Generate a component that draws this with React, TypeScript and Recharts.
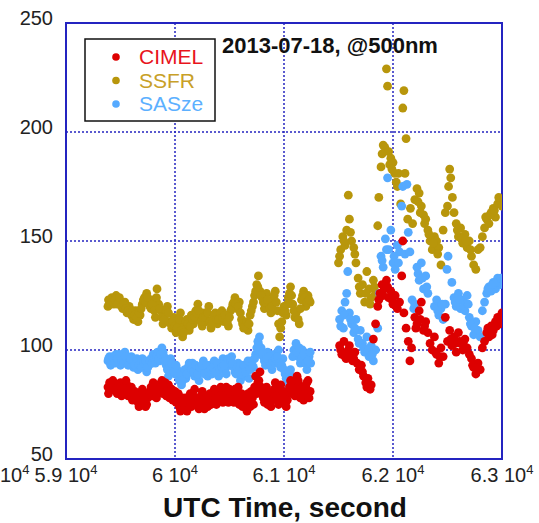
import React from "react";
import {
  ScatterChart,
  Scatter,
  XAxis,
  YAxis,
  CartesianGrid,
  ReferenceArea,
} from "recharts";

// UTC time (s), value pairs
const cimel: [number, number][] = [
  [59385, 83], [59400, 85], [59420, 82], [59440, 84], [59460, 81], [59480, 83], [59500, 85], [59520, 82],
  [59540, 80], [59560, 84], [59580, 81], [59600, 83], [59620, 78], [59640, 80], [59660, 76], [59680, 79],
  [59700, 82], [59720, 77], [59740, 75], [59760, 79], [59780, 83], [59800, 85], [59820, 80], [59840, 84],
  [59860, 81], [59880, 86], [59900, 82], [59920, 79], [59940, 84], [59960, 80], [59980, 77], [60000, 81],
  [60020, 78], [60040, 74], [60060, 76], [60080, 73], [60100, 78], [60120, 75], [60140, 80], [60160, 77],
  [60180, 82], [60200, 76], [60220, 73], [60240, 79], [60260, 75], [60280, 78], [60300, 74], [60320, 80],
  [60340, 77], [60360, 82], [60380, 75], [60400, 79], [60420, 83], [60440, 76], [60460, 81], [60480, 78],
  [60500, 82], [60520, 79], [60540, 76], [60560, 80], [60580, 83], [60600, 77], [60620, 74], [60640, 79],
  [60660, 72], [60680, 77], [60700, 81], [60720, 75], [60740, 88], [60760, 85], [60780, 90], [60800, 80],
  [60820, 76], [60840, 83], [60860, 78], [60880, 74], [60900, 80], [60920, 85], [60940, 77], [60960, 82],
  [60980, 79], [61000, 76], [61020, 74], [61040, 81], [61060, 86], [61080, 83], [61100, 79], [61120, 88],
  [61140, 84], [61160, 80], [61180, 77], [61200, 83], [61220, 86], [61240, 81],
  [59390, 80], [59410, 84], [59430, 86], [59450, 82], [59470, 80], [59490, 84], [59510, 79], [59530, 83],
  [59550, 86], [59570, 79], [59590, 82], [59610, 77], [59630, 81], [59650, 79], [59670, 74], [59690, 77],
  [59710, 80], [59730, 74], [59750, 78], [59770, 81], [59790, 79], [59810, 83], [59830, 78], [59850, 82],
  [59870, 84], [59890, 80], [59910, 85], [59930, 81], [59950, 78], [59970, 82], [59990, 79], [60010, 76],
  [60030, 80], [60050, 72], [60070, 78], [60090, 75], [60110, 72], [60130, 77], [60150, 74], [60170, 79],
  [60190, 75], [60210, 78], [60230, 76], [60250, 81], [60270, 73], [60290, 77], [60310, 79], [60330, 75],
  [60350, 79], [60370, 78], [60390, 81], [60410, 77], [60430, 80], [60450, 79], [60470, 83], [60490, 76],
  [60510, 80], [60530, 77], [60550, 82], [60570, 78], [60590, 75], [60610, 80], [60630, 77], [60650, 75],
  [60670, 80], [60690, 74], [60710, 78], [60730, 83], [60750, 80], [60770, 86], [60790, 83], [60810, 78],
  [60830, 81], [60850, 75], [60870, 80], [60890, 77], [60910, 82], [60930, 79], [60950, 75], [60970, 84],
  [60990, 81], [61010, 78], [61030, 77], [61050, 83], [61070, 80], [61090, 85], [61110, 82], [61130, 86],
  [61150, 78], [61170, 83], [61190, 80], [61210, 85], [61230, 78],
  [61510, 102], [61530, 98], [61550, 104], [61570, 96], [61590, 100], [61610, 97], [61630, 95], [61650, 99],
  [61670, 94], [61690, 91], [61710, 93], [61730, 88], [61750, 85], [61770, 87], [61790, 82], [61800, 84],
  [61820, 105], [61840, 112], [61860, 120], [61880, 126], [61900, 130], [61920, 128], [61940, 132], [61960, 124],
  [61980, 127], [62000, 121], [62020, 125], [62040, 119], [62060, 122], [62080, 134], [62090, 150], [62100, 117],
  [62120, 110], [62140, 104], [62155, 95], [62170, 101], [62200, 115], [62220, 112], [62240, 118], [62260, 122],
  [62280, 109], [62300, 113], [62320, 108], [62340, 103], [62360, 100], [62380, 106], [62400, 98], [62420, 94],
  [62440, 101], [62460, 97], [62480, 115], [62500, 104], [62520, 109], [62540, 102], [62560, 106], [62580, 99],
  [62600, 108], [62620, 103], [62640, 100], [62660, 105], [62680, 101], [62700, 98], [62720, 96], [62740, 92],
  [62760, 89], [62780, 94], [62800, 91], [62820, 101], [62840, 104], [62860, 108], [62880, 106], [62900, 111],
  [62920, 109], [62940, 113], [62960, 115], [62980, 112], [63000, 117],
  [61520, 100], [61560, 97], [61600, 102], [61640, 96], [61720, 90], [61760, 83], [61870, 123], [61910, 125],
  [61950, 129], [61990, 123], [62030, 120], [62210, 110], [62250, 114], [62290, 111], [62390, 99], [62430, 97],
  [62530, 105], [62570, 103], [62610, 104], [62650, 102], [62730, 93], [62770, 92], [62870, 110], [62910, 107],
  [62950, 111], [62990, 114],
];

const ssfr: [number, number][] = [
  [59385, 120], [59400, 122], [59420, 124], [59440, 121], [59460, 125], [59480, 123], [59500, 121], [59520, 119],
  [59540, 122], [59560, 117], [59580, 120], [59600, 116], [59620, 114], [59640, 118], [59660, 113], [59680, 116],
  [59700, 121], [59720, 124], [59740, 126], [59760, 122], [59780, 119], [59800, 123], [59820, 115], [59835, 128],
  [59850, 121], [59870, 118], [59890, 112], [59910, 116], [59930, 120], [59950, 113], [59970, 110], [59990, 115],
  [60010, 108], [60030, 112], [60050, 117], [60070, 106], [60090, 111], [60110, 114], [60130, 109], [60150, 116],
  [60170, 112], [60190, 118], [60210, 121], [60230, 115], [60250, 111], [60270, 117], [60290, 113], [60310, 120],
  [60330, 110], [60350, 114], [60370, 117], [60390, 112], [60410, 116], [60430, 118], [60450, 113], [60470, 115],
  [60490, 111], [60510, 118], [60530, 121], [60550, 124], [60570, 119], [60590, 122], [60610, 114], [60630, 110],
  [60650, 112], [60670, 109], [60690, 116], [60710, 120], [60730, 125], [60750, 130], [60765, 134], [60780, 127],
  [60800, 124], [60820, 119], [60840, 126], [60860, 121], [60880, 117], [60900, 123], [60920, 127], [60940, 118],
  [60960, 106], [60980, 113], [61000, 120], [61020, 116], [61040, 124], [61060, 129], [61080, 121], [61100, 115],
  [61120, 118], [61140, 112], [61160, 123], [61180, 127], [61200, 120], [61220, 125], [61240, 122],
  [59390, 123], [59410, 121], [59430, 122], [59450, 123], [59470, 121], [59490, 124], [59510, 120], [59530, 121],
  [59550, 119], [59570, 118], [59590, 117], [59610, 118], [59630, 116], [59650, 115], [59670, 117], [59690, 119],
  [59710, 123], [59730, 122], [59750, 124], [59770, 120], [59790, 121], [59810, 118], [59830, 124], [59860, 119],
  [59880, 115], [59900, 114], [59920, 118], [59940, 117], [59960, 112], [59980, 113], [60000, 111], [60020, 110],
  [60040, 114], [60060, 109], [60080, 108], [60100, 113], [60120, 112], [60140, 111], [60160, 114], [60180, 115],
  [60200, 117], [60220, 118], [60240, 113], [60260, 115], [60280, 115], [60300, 117], [60320, 113], [60340, 112],
  [60360, 116], [60380, 114], [60400, 114], [60420, 117], [60440, 115], [60460, 116], [60480, 113], [60500, 115],
  [60520, 119], [60540, 122], [60560, 121], [60580, 120], [60600, 117], [60620, 112], [60640, 111], [60660, 113],
  [60680, 112], [60700, 118], [60720, 122], [60740, 127], [60760, 129], [60790, 125], [60810, 122], [60830, 122],
  [60850, 123], [60870, 119], [60890, 120], [60910, 125], [60930, 122], [60950, 112], [60970, 110], [60990, 117],
  [61010, 118], [61030, 121], [61050, 126], [61070, 125], [61090, 118], [61110, 117], [61130, 114], [61150, 119],
  [61170, 125], [61190, 124], [61210, 122], [61230, 123],
  [61500, 140], [61520, 146], [61540, 152], [61560, 148], [61575, 155], [61590, 171], [61600, 160], [61620, 150],
  [61640, 147], [61660, 140], [61680, 133], [61700, 126], [61720, 130], [61740, 122], [61760, 136], [61780, 128],
  [61800, 124], [61820, 132], [61840, 126], [61860, 157], [61870, 170], [61890, 184], [61910, 194], [61925, 193],
  [61940, 229], [61950, 221], [61960, 191], [61980, 188], [62000, 186], [62015, 181], [62030, 177], [62050, 181],
  [62070, 167], [62090, 211], [62100, 219], [62110, 181], [62120, 197], [62135, 160], [62160, 165], [62180, 158],
  [62200, 169], [62220, 174], [62240, 172], [62260, 166], [62280, 162], [62300, 160], [62320, 155], [62340, 150],
  [62360, 146], [62380, 152], [62400, 150], [62420, 147], [62440, 139], [62460, 155], [62480, 163], [62500, 166],
  [62510, 175], [62520, 183], [62530, 179], [62545, 170], [62560, 163], [62580, 158], [62600, 152], [62620, 156],
  [62640, 149], [62660, 153], [62680, 147], [62700, 150], [62720, 143], [62740, 139], [62760, 137], [62780, 146],
  [62800, 147], [62820, 152], [62840, 156], [62860, 160], [62880, 158], [62900, 163], [62920, 165], [62940, 161],
  [62960, 167], [62980, 169], [63000, 166],
  [61510, 143], [61550, 150], [61610, 154], [61650, 144], [61690, 129], [61750, 126], [61790, 121], [61830, 129],
  [61900, 190], [61970, 185], [61990, 183], [62040, 175], [62230, 168], [62250, 163], [62290, 158], [62330, 153],
  [62370, 149], [62410, 144], [62590, 155], [62630, 151], [62670, 150], [62710, 146], [62850, 161], [62890, 162],
  [62930, 164], [62970, 170],
];

const sasze: [number, number][] = [
  [59385, 95], [59400, 97], [59420, 94], [59440, 96], [59460, 98], [59480, 95], [59500, 93], [59520, 97],
  [59540, 99], [59560, 95], [59580, 94], [59600, 97], [59620, 92], [59640, 95], [59660, 91], [59680, 94],
  [59700, 96], [59720, 92], [59740, 90], [59760, 93], [59780, 96], [59800, 98], [59820, 94], [59840, 99],
  [59860, 95], [59880, 101], [59900, 97], [59920, 93], [59940, 88], [59960, 96], [59980, 92], [60000, 89],
  [60020, 91], [60040, 86], [60060, 84], [60080, 89], [60100, 87], [60120, 92], [60140, 90], [60160, 94],
  [60180, 88], [60200, 92], [60220, 86], [60240, 90], [60260, 95], [60280, 91], [60300, 88], [60320, 93],
  [60340, 89], [60360, 95], [60380, 92], [60400, 88], [60420, 94], [60440, 96], [60460, 91], [60480, 95],
  [60500, 93], [60520, 97], [60540, 92], [60560, 89], [60580, 94], [60600, 86], [60620, 91], [60640, 88],
  [60660, 93], [60680, 87], [60700, 95], [60720, 92], [60740, 98], [60760, 104], [60775, 106], [60790, 101],
  [60810, 97], [60830, 93], [60850, 99], [60870, 95], [60890, 91], [60910, 98], [60930, 94], [60950, 100],
  [60970, 92], [60990, 96], [61010, 89], [61030, 85], [61050, 83], [61070, 88], [61090, 100], [61110, 103],
  [61130, 97], [61150, 94], [61170, 100], [61190, 96], [61210, 91], [61230, 97], [61245, 94],
  [59390, 96], [59410, 93], [59430, 97], [59450, 94], [59470, 96], [59490, 98], [59510, 95], [59530, 94],
  [59550, 97], [59570, 93], [59590, 96], [59610, 95], [59630, 93], [59650, 96], [59670, 93], [59690, 92],
  [59710, 94], [59730, 95], [59750, 92], [59770, 95], [59790, 94], [59810, 96], [59830, 97], [59850, 96],
  [59870, 98], [59890, 99], [59910, 95], [59930, 91], [59950, 93], [59970, 94], [59990, 90], [60010, 93],
  [60030, 88], [60050, 89], [60070, 86], [60090, 91], [60110, 89], [60130, 94], [60150, 91], [60170, 90],
  [60190, 93], [60210, 89], [60230, 92], [60250, 93], [60270, 89], [60290, 93], [60310, 90], [60330, 91],
  [60350, 92], [60370, 90], [60390, 94], [60410, 91], [60430, 92], [60450, 93], [60470, 89], [60490, 96],
  [60510, 95], [60530, 94], [60550, 90], [60570, 92], [60590, 91], [60610, 89], [60630, 93], [60650, 90],
  [60670, 95], [60690, 91], [60710, 93], [60730, 96], [60750, 101], [60765, 103], [60785, 98], [60800, 99],
  [60820, 95], [60840, 96], [60860, 97], [60880, 93], [60900, 95], [60920, 96], [60940, 97], [60960, 94],
  [60980, 93], [61000, 91], [61020, 87], [61040, 86], [61060, 91], [61080, 97], [61100, 98], [61120, 99],
  [61140, 101], [61160, 96], [61180, 98], [61200, 94], [61220, 95], [61240, 99],
  [61510, 114], [61530, 118], [61545, 110], [61560, 122], [61575, 126], [61585, 136], [61600, 117], [61620, 112],
  [61640, 108], [61660, 114], [61680, 105], [61700, 109], [61720, 103], [61740, 99], [61760, 106], [61780, 97],
  [61800, 102], [61820, 95], [61840, 100], [61860, 110], [61875, 126], [61890, 143], [61910, 138], [61930, 151],
  [61950, 179], [61960, 146], [61980, 155], [62000, 140], [62020, 137], [62040, 148], [62060, 145], [62080, 166],
  [62090, 175], [62110, 144], [62128, 176], [62140, 154], [62155, 145], [62175, 123], [62190, 119], [62200, 121],
  [62220, 138], [62240, 132], [62260, 140], [62280, 128], [62300, 134], [62320, 126], [62380, 120], [62400, 123],
  [62420, 116], [62440, 119], [62460, 114], [62480, 121], [62495, 137], [62505, 143], [62540, 131], [62560, 124],
  [62580, 120], [62600, 126], [62620, 119], [62640, 123], [62660, 118], [62680, 125], [62700, 115], [62720, 111],
  [62740, 107], [62760, 113], [62780, 109], [62800, 106], [62820, 118], [62840, 122], [62860, 126], [62880, 129],
  [62900, 127], [62920, 131], [62940, 128], [62960, 133], [62980, 130], [63000, 132],
  [61520, 111], [61550, 116], [61610, 114], [61650, 110], [61690, 103], [61730, 101], [61770, 100], [61810, 98],
  [61900, 141], [61940, 146], [62010, 143], [62050, 140], [62230, 135], [62270, 133], [62310, 129], [62410, 118],
  [62450, 121], [62570, 122], [62610, 123], [62650, 120], [62690, 121], [62710, 112], [62750, 110], [62870, 128],
  [62910, 130], [62950, 131], [62990, 133],
];

const xTicks = [59000, 60000, 61000, 62000, 63000];
const xTickLabels = ["5.9", "6", "6.1", "6.2", "6.3"];
const yTicks = [50, 100, 150, 200, 250];

const seriesNames = ["CIMEL", "SSFR", "SASze"];
const dotColors = ["#dd0000", "#b8960b", "#55aaff"];
const labelColors = ["#e8141c", "#c8a028", "#5cb0ff"];

const FONT = '"Liberation Sans", Arial, sans-serif';
const FRAME = "#2424c0";

const toRows = (pts: [number, number][]) => pts.map(([t, v]) => ({ t, v }));

const Dot = (color: string) => (props: any) => (
  <circle cx={props.cx} cy={props.cy} r={4.4} fill={color} />
);

const XTick = (props: any) => {
  const { x, y, payload } = props;
  const i = xTicks.indexOf(payload.value);
  return (
    <g fontFamily={FONT} fill="#222">
      {i === 0 && (
        <text x={x - 66} y={y + 21} fontSize={20} textAnchor="start">
          10<tspan dy={-8} fontSize={13}>4</tspan>
        </text>
      )}
      <text x={x} y={y + 21} fontSize={20} textAnchor="middle">
        {xTickLabels[i]} 10<tspan dy={-8} fontSize={13}>4</tspan>
      </text>
    </g>
  );
};

const YTick = (props: any) => {
  const { x, y, payload } = props;
  return (
    <text x={x} y={y + 2} fontSize={20} textAnchor="end" fill="#222" fontFamily={FONT}>
      {payload.value}
    </text>
  );
};

export default function App() {
  return (
    <div style={{ position: "absolute", left: 0, top: 0, width: 539, height: 523, background: "#fff" }}>
      <ScatterChart width={539} height={523} margin={{ top: 23, right: 37, bottom: 0, left: 0 }}>
        <CartesianGrid
          stroke={FRAME}
          strokeDasharray="2 2"
          strokeWidth={1.5}
          horizontalValues={[100, 150, 200]}
          verticalValues={[60000, 61000, 62000]}
        />
        <XAxis
          type="number"
          dataKey="t"
          domain={[59000, 63000]}
          ticks={xTicks}
          allowDataOverflow
          height={64}
          axisLine={false}
          tickLine={false}
          tickSize={0}
          tick={<XTick />}
          interval={0}
        />
        <YAxis
          type="number"
          dataKey="v"
          domain={[50, 250]}
          ticks={yTicks}
          allowDataOverflow
          width={66}
          axisLine={false}
          tickLine={false}
          tickSize={0}
          tickMargin={13}
          tick={<YTick />}
          interval={0}
        />
        <Scatter data={toRows(ssfr)} fill={dotColors[1]} shape={Dot(dotColors[1])} isAnimationActive={false} />
        <Scatter data={toRows(sasze)} fill={dotColors[2]} shape={Dot(dotColors[2])} isAnimationActive={false} />
        <Scatter data={toRows(cimel)} fill={dotColors[0]} shape={Dot(dotColors[0])} isAnimationActive={false} />
        <ReferenceArea
          x1={59000}
          x2={63000}
          y1={50}
          y2={250}
          fill="none"
          fillOpacity={0}
          stroke={FRAME}
          strokeWidth={2}
          ifOverflow="visible"
        />
      </ScatterChart>
      <svg
        width={539}
        height={523}
        style={{ position: "absolute", left: 0, top: 0, pointerEvents: "none" }}
      >
        <rect x={85} y={39} width={130} height={82} fill="#fff" stroke="#111" strokeWidth={1.5} />
        {seriesNames.map((name, i) => (
          <g key={name}>
            <circle cx={116} cy={57 + i * 23.5} r={3.8} fill={dotColors[i]} />
            <text x={139} y={64 + i * 23.5} fontSize={21} fontFamily={FONT} fill={labelColors[i]}>
              {name}
            </text>
          </g>
        ))}
        <text x={222} y={53} fontSize={22} fontWeight="bold" fontFamily={FONT} fill="#111">
          2013-07-18, @500nm
        </text>
        <text x={285} y={517} fontSize={28} fontWeight="bold" fontFamily={FONT} fill="#111" textAnchor="middle">
          UTC Time, second
        </text>
      </svg>
    </div>
  );
}
